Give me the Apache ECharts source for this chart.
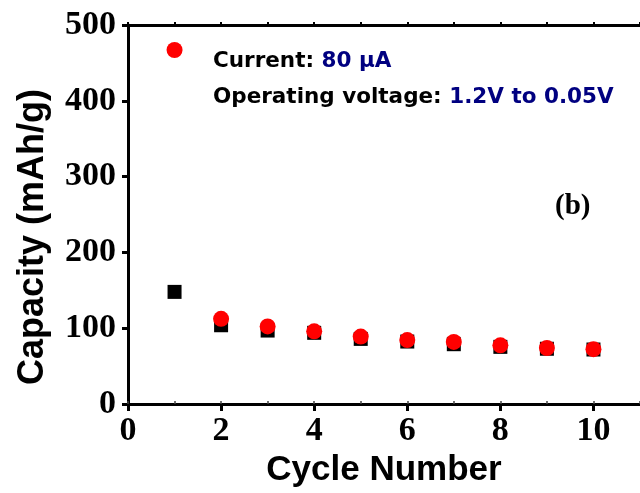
<!DOCTYPE html>
<html>
<head>
<meta charset="utf-8">
<script src="https://cdn.jsdelivr.net/npm/echarts@6/dist/echarts.min.js"></script>
<style>html,body{margin:0;padding:0;background:#fff;}#c{width:640px;height:493px;}</style>
</head>
<body>
<div id="c"></div>
<script>
var cycles = [1, 2, 3, 4, 5, 6, 7, 8, 9, 10];
var charge = [148, 104, 97, 94, 86, 82.5, 79, 75.5, 73, 72];      // black squares
var discharge = [467, 112.5, 102.5, 96, 89, 84.5, 82, 77.5, 74, 72.5]; // red circles
var xTicks = [0, 2, 4, 6, 8, 10];
var yTicks = [0, 100, 200, 300, 400, 500];

var chart = echarts.init(document.getElementById('c'), null, {renderer: 'canvas'});
var serif = "'Liberation Serif', 'Times New Roman', serif";
var sans = "'Liberation Sans', Arial, sans-serif";
var dj = "'DejaVu Sans', sans-serif";
var axisLine = {show: true, lineStyle: {color: '#000', width: 3}};

chart.setOption({
  animation: false,
  backgroundColor: '#fff',
  grid: {left: 128, top: 25, width: 518, height: 380},
  xAxis: [{
    type: 'value', min: 0, max: 11, interval: 2,
    position: 'bottom',
    name: 'Cycle Number', nameLocation: 'middle', nameGap: 47,
    nameTextStyle: {fontFamily: sans, fontWeight: 'bold', fontSize: 35, color: '#000'},
    axisLine: axisLine,
    axisTick: {show: true, length: 7, lineStyle: {color: '#000', width: 3}},
    splitLine: {show: false},
    axisLabel: {fontFamily: serif, fontWeight: 'bold', fontSize: 34, color: '#000', margin: 10,
      showMaxLabel: false,
      formatter: function (v) { return xTicks.indexOf(v) >= 0 ? String(v) : ''; }}
  }, {
    type: 'value', min: 0, max: 11, interval: 1,
    position: 'top',
    axisLine: axisLine,
    axisTick: {show: true, length: 3, lineStyle: {color: '#000', width: 2}},
    splitLine: {show: false},
    axisLabel: {show: false}
  }, {
    type: 'value', min: 0, max: 11, interval: 1,
    position: 'bottom',
    axisLine: {show: false},
    axisTick: {show: true, inside: true, length: 3, lineStyle: {color: '#444', width: 1.5}},
    splitLine: {show: false},
    axisLabel: {show: false}
  }],
  yAxis: {
    type: 'value', min: 0, max: 500, interval: 100,
    axisLine: axisLine,
    axisTick: {show: true, length: 6, lineStyle: {color: '#000', width: 3}},
    splitLine: {show: false},
    axisLabel: {fontFamily: serif, fontWeight: 'bold', fontSize: 34, color: '#000', margin: 12,
      formatter: function (v) { return yTicks.indexOf(v) >= 0 ? String(v) : ''; }}
  },
  series: [{
    type: 'scatter', name: 'charge',
    data: cycles.map(function (c, i) { return [c, charge[i]]; }),
    symbol: 'rect', symbolSize: 14,
    itemStyle: {color: '#000', opacity: 1}
  }, {
    type: 'scatter', name: 'discharge',
    data: cycles.map(function (c, i) { return [c, discharge[i]]; }),
    symbol: 'circle', symbolSize: 16,
    itemStyle: {color: '#ff0000', opacity: 1}
  }],
  graphic: [{
    type: 'text', x: 33, y: 237, rotation: Math.PI / 2,
    style: {text: 'Capacity (mAh/g)', fontFamily: sans, fontWeight: 'bold', fontSize: 36,
      fill: '#000', align: 'center', verticalAlign: 'middle'}
  }, {
    type: 'text', left: 213, top: 50,
    style: {
      text: '{k|Current: }{v|80 μA}',
      rich: {
        k: {fontFamily: dj, fontWeight: 'bold', fontSize: 21.5, fill: '#000'},
        v: {fontFamily: dj, fontWeight: 'bold', fontSize: 21.5, fill: '#000080'}
      }
    }
  }, {
    type: 'text', left: 213, top: 86,
    style: {
      text: '{k|Operating voltage: }{v|1.2V to 0.05V}',
      rich: {
        k: {fontFamily: dj, fontWeight: 'bold', fontSize: 21.5, fill: '#000'},
        v: {fontFamily: dj, fontWeight: 'bold', fontSize: 21.5, fill: '#000080'}
      }
    }
  }, {
    type: 'text', left: 555, top: 192,
    style: {text: '(b)', fontFamily: serif, fontWeight: 'bold', fontSize: 29, fill: '#000'}
  }]
});
</script>
</body>
</html>
